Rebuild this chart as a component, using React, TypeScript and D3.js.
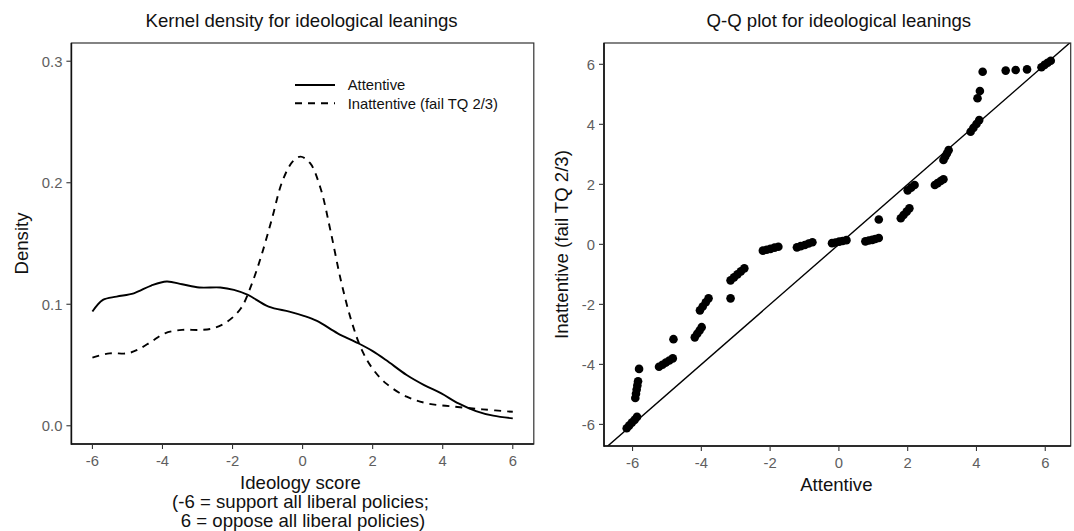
import * as d3 from "d3";

// kernel density estimates
const attentiveX = [-6, -5.7, -5.31, -4.82, -4.32, -3.88, -3.44, -2.95, -2.35, -1.96, -1.56, -0.97, -0.38, 0.01, 0.41, 1.0, 1.59, 1.99, 2.38, 2.97, 3.47, 3.96, 4.45, 4.95, 5.44, 6];
const attentiveDensity = [0.094, 0.1036, 0.1063, 0.109, 0.1154, 0.1187, 0.1165, 0.1138, 0.1138, 0.1118, 0.1077, 0.0981, 0.094, 0.0907, 0.0863, 0.0761, 0.0679, 0.0616, 0.0541, 0.0418, 0.0335, 0.0266, 0.0184, 0.0121, 0.0083, 0.0061];

const inattentiveX = [-6, -5.51, -5.01, -4.72, -4.32, -3.93, -3.44, -2.94, -2.55, -2.15, -1.76, -1.46, -1.17, -0.87, -0.58, -0.28, -0.06, 0.21, 0.51, 0.8, 1.1, 1.4, 1.69, 1.99, 2.38, 2.97, 3.56, 4.35, 5.14, 6];
const inattentiveDensity = [0.0561, 0.0596, 0.0596, 0.0624, 0.0692, 0.0761, 0.0789, 0.0789, 0.0802, 0.0857, 0.0967, 0.116, 0.1407, 0.1709, 0.2011, 0.2176, 0.2215, 0.2163, 0.1957, 0.16, 0.1187, 0.0857, 0.0624, 0.0473, 0.0349, 0.0239, 0.0184, 0.0157, 0.0135, 0.0115];

// quantile pairs
const qqAttentive = [
  -6.17, -6.1, -6.02, -5.94, -5.87,
  -5.92, -5.9, -5.88, -5.86, -5.84,
  -5.81,
  -5.23, -5.13, -5.03, -4.93, -4.83,
  -4.81,
  -4.19, -4.12, -4.05, -3.99,
  -4.04, -3.96, -3.87, -3.79,
  -3.15,
  -3.15, -3.05, -2.95, -2.85, -2.75,
  -2.21, -2.1, -1.99, -1.87, -1.76,
  -1.22, -1.11, -0.99, -0.88, -0.77,
  -0.2, -0.1, 0.01, 0.11, 0.22,
  0.77, 0.87, 0.97, 1.06, 1.16,
  1.16,
  1.8, 1.88, 1.97, 2.05,
  2.0, 2.1, 2.2,
  2.79, 2.87, 2.96, 3.04,
  3.04, 3.09, 3.14, 3.19,
  3.83, 3.91, 4.0, 4.08,
  4.03, 4.1, 4.18,
  4.85, 5.14, 5.47,
  5.89, 5.98, 6.07, 6.16,
];
const qqInattentive = [
  -6.13, -6.04, -5.94, -5.85, -5.75,
  -5.12, -4.98, -4.84, -4.7, -4.56,
  -4.15,
  -4.08, -4.01, -3.94, -3.87, -3.8,
  -3.16,
  -3.1, -2.98, -2.87, -2.76,
  -2.2, -2.07, -1.93, -1.8,
  -1.8,
  -1.2, -1.1, -1.0, -0.9, -0.8,
  -0.21, -0.18, -0.15, -0.11, -0.08,
  -0.1, -0.06, -0.02, 0.03, 0.07,
  0.04, 0.06, 0.09, 0.11, 0.14,
  0.1, 0.13, 0.15, 0.18, 0.21,
  0.83,
  0.87, 0.98, 1.09, 1.2,
  1.8, 1.89, 1.98,
  1.98, 2.04, 2.11, 2.17,
  2.81, 2.92, 3.03, 3.14,
  3.75, 3.88, 4.01, 4.14,
  4.87, 5.11, 5.75,
  5.79, 5.81, 5.83,
  5.9, 5.98, 6.05, 6.12,
];

const xTicks = [-6, -4, -2, 0, 2, 4, 6];
const densityTicks = [0, 0.1, 0.2, 0.3];
const qqYTicks = [-6, -4, -2, 0, 2, 4, 6];

const FONT = "'Liberation Sans', Arial, Helvetica, sans-serif";
const TICK_COLOR = "#5e5e5e";
const DASH = "7 6";

const W = 1074;
const H = 531;

const left = { x0: 71.4, x1: 533.8, y0: 43, y1: 444 };
const right = { x0: 604, x1: 1070.7, y0: 43, y1: 446 };

export default function App() {
  const xL = d3.scaleLinear().domain([-6.6, 6.6]).range([left.x0, left.x1]);
  const yL = d3.scaleLinear().domain([-0.015, 0.315]).range([left.y1, left.y0]);
  const xR = d3.scaleLinear().domain([-6.83, 6.74]).range([right.x0, right.x1]);
  const yR = d3.scaleLinear().domain([-6.72, 6.71]).range([right.y1, right.y0]);

  const line = d3
    .line<[number, number]>()
    .x((d) => xL(d[0]))
    .y((d) => yL(d[1]))
    .curve(d3.curveCatmullRom.alpha(0.5));

  const solidPath = line(attentiveX.map((x, i) => [x, attentiveDensity[i]]) as [number, number][]) ?? "";
  const dashedPath = line(inattentiveX.map((x, i) => [x, inattentiveDensity[i]]) as [number, number][]) ?? "";

  const diagLo = xR.domain()[0];
  const diagHi = xR.domain()[1];

  const panelFrame = (p: typeof left) => (
    <g>
      <rect x={p.x0} y={p.y0} width={p.x1 - p.x0} height={p.y1 - p.y0} fill="none" stroke="#333" strokeWidth={1.2} />
      <line x1={p.x0} x2={p.x0} y1={p.y0} y2={p.y1 + 0.8} stroke="#111" strokeWidth={1.6} />
      <line x1={p.x0} x2={p.x1} y1={p.y1} y2={p.y1} stroke="#111" strokeWidth={1.6} />
    </g>
  );

  return (
    <svg
      width={W}
      height={H}
      viewBox={`0 0 ${W} ${H}`}
      style={{ position: "absolute", left: 0, top: 0, background: "#fff", fontFamily: FONT }}
    >
      <defs>
        <clipPath id="clipR">
          <rect x={right.x0} y={right.y0} width={right.x1 - right.x0} height={right.y1 - right.y0} />
        </clipPath>
      </defs>
      <rect width={W} height={H} fill="#fff" />

      {/* ---------- left: kernel density ---------- */}
      <text x={(left.x0 + left.x1) / 2 - 1} y={26.5} fontSize={18.6} textAnchor="middle" fill="#111">
        Kernel density for ideological leanings
      </text>

      <path d={solidPath} fill="none" stroke="#000" strokeWidth={1.9} />
      <path d={dashedPath} fill="none" stroke="#000" strokeWidth={1.9} strokeDasharray={DASH} />

      {/* legend */}
      <line x1={295} x2={335} y1={85} y2={85} stroke="#000" strokeWidth={1.9} />
      <line x1={295} x2={335} y1={103.3} y2={103.3} stroke="#000" strokeWidth={1.9} strokeDasharray={DASH} />
      <text x={347.7} y={90.3} fontSize={14.8} fill="#111">Attentive</text>
      <text x={347.7} y={108.6} fontSize={14.8} fill="#111">Inattentive (fail TQ 2/3)</text>

      {panelFrame(left)}

      {xTicks.map((t) => (
        <g key={`lx${t}`}>
          <line x1={xL(t)} x2={xL(t)} y1={left.y1} y2={left.y1 + 5} stroke="#333" strokeWidth={1.1} />
          <text x={xL(t)} y={left.y1 + 21.5} fontSize={14.8} textAnchor="middle" fill={TICK_COLOR}>
            {t}
          </text>
        </g>
      ))}
      {densityTicks.map((t) => (
        <g key={`ly${t}`}>
          <line x1={left.x0 - 5} x2={left.x0} y1={yL(t)} y2={yL(t)} stroke="#333" strokeWidth={1.1} />
          <text x={left.x0 - 9} y={yL(t) + 5.3} fontSize={14.8} textAnchor="end" fill={TICK_COLOR}>
            {d3.format(".1f")(t)}
          </text>
        </g>
      ))}

      <text
        transform={`translate(21.7, ${(left.y0 + left.y1) / 2}) rotate(-90)`}
        fontSize={18.6}
        textAnchor="middle"
        dominantBaseline="central"
        fill="#111"
      >
        Density
      </text>
      <text x={300.5} y={489} fontSize={18.6} textAnchor="middle" fill="#111">Ideology score</text>
      <text x={300.5} y={508} fontSize={18.6} textAnchor="middle" fill="#111">(-6 = support all liberal policies;</text>
      <text x={303} y={527} fontSize={18.6} textAnchor="middle" fill="#111">6 = oppose all liberal policies)</text>

      {/* ---------- right: Q-Q plot ---------- */}
      <text x={(right.x0 + right.x1) / 2 + 1.5} y={26.5} fontSize={18.6} textAnchor="middle" fill="#111">
        Q-Q plot for ideological leanings
      </text>

      <g clipPath="url(#clipR)">
        <line x1={xR(diagLo)} y1={yR(diagLo)} x2={xR(diagHi)} y2={yR(diagHi)} stroke="#000" strokeWidth={1.4} />
        {qqAttentive.map((q, i) => (
          <circle key={i} cx={xR(q)} cy={yR(qqInattentive[i])} r={4.3} fill="#000" />
        ))}
      </g>

      {panelFrame(right)}

      {xTicks.map((t) => (
        <g key={`rx${t}`}>
          <line x1={xR(t)} x2={xR(t)} y1={right.y1} y2={right.y1 + 5} stroke="#333" strokeWidth={1.1} />
          <text x={xR(t)} y={right.y1 + 21.5} fontSize={14.8} textAnchor="middle" fill={TICK_COLOR}>
            {t}
          </text>
        </g>
      ))}
      {qqYTicks.map((t) => (
        <g key={`ry${t}`}>
          <line x1={right.x0 - 5} x2={right.x0} y1={yR(t)} y2={yR(t)} stroke="#333" strokeWidth={1.1} />
          <text x={right.x0 - 9} y={yR(t) + 5.3} fontSize={14.8} textAnchor="end" fill={TICK_COLOR}>
            {t}
          </text>
        </g>
      ))}

      <text
        transform={`translate(561.7, ${(right.y0 + right.y1) / 2}) rotate(-90)`}
        fontSize={18.6}
        textAnchor="middle"
        dominantBaseline="central"
        fill="#111"
      >
        Inattentive (fail TQ 2/3)
      </text>
      <text x={(right.x0 + right.x1) / 2 - 1} y={491} fontSize={18.6} textAnchor="middle" fill="#111">
        Attentive
      </text>
    </svg>
  );
}
